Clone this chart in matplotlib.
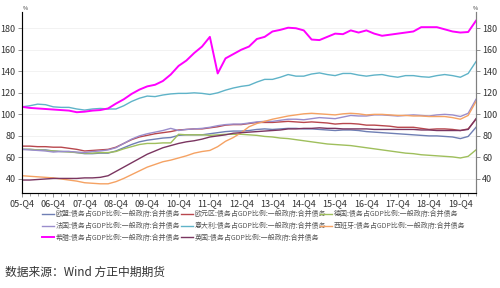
import numpy as np
import matplotlib.pyplot as plt
from matplotlib.ticker import MultipleLocator

plt.rcParams['font.family'] = ['Noto Sans CJK SC', 'DejaVu Sans']
plt.rcParams['axes.unicode_minus'] = False

# ----- Quarters: 05-Q4 ... 20-Q2 ----- #
quarters = []
for yr in range(5, 21):
    for q in range(1, 5):
        if (yr == 5 and q < 4) or (yr == 20 and q > 2):
            continue
        quarters.append("%02d-Q%d" % (yr, q))

# ----- Series (% of GDP) ----- #
eu = [67.5, 67.5, 67, 67, 66, 65.5, 65.5, 64.5, 63.5, 63.5, 64, 64, 66, 69, 72, 74.5, 76,
      77, 78, 78.5, 80.5, 81, 81, 81, 82, 83, 84, 84.5, 84.5, 85, 86, 86.5, 86, 86.5, 87,
      87, 86.5, 86.5, 86, 85.5, 85, 85.5, 85.5, 85, 84, 83.5, 83, 82.5, 82, 81.5, 81, 80.5,
      80, 80, 79.5, 79, 77.5, 79.5, 88]
ea = [70.5, 70.5, 70, 70, 69.5, 69.5, 68.5, 67.5, 66, 66.5, 67, 67.5, 69.5, 73, 76.5, 79,
      80.5, 82, 83, 84, 85.5, 86, 86.5, 86.5, 87.5, 88.5, 90, 90.5, 90.5, 91.5, 92.5, 92.5,
      92.5, 93, 93.5, 93, 92.5, 93, 92.5, 92, 91, 91.5, 91.5, 91, 90, 90, 89.5, 89, 88, 88,
      88, 87, 86, 86.5, 86.5, 86, 85, 86.5, 95.5]
germany = [67.5, 67.5, 67, 66.5, 66, 65.5, 65, 64.5, 64, 64, 64.5, 64.5, 65.5, 68, 70, 72,
           73, 73, 73.5, 73.5, 81.5, 81, 81, 81, 80.5, 81, 81.5, 81.5, 81.5, 81, 80.5, 79.5,
           79, 78, 77.5, 76.5, 75.5, 74.5, 73.5, 72.5, 72, 71.5, 71, 70, 69, 68, 67, 66, 65,
           64, 63.5, 62.5, 62, 61.5, 61, 60.5, 59.5, 61, 67]
france = [67.5, 67, 66.5, 66, 65, 65.5, 65.5, 65, 64.5, 65.5, 66, 67, 69, 73, 77, 80, 82,
          83.5, 85, 87, 85, 86, 86.5, 87, 88, 89.5, 90.5, 91, 91, 92, 93, 93.5, 93.5, 94.5,
          95.5, 95.5, 95, 96, 97, 96.5, 96, 97.5, 99, 98.5, 98.5, 99.5, 99.5, 99, 98.5, 99,
          99.5, 99, 98.5, 99.5, 100, 99.5, 98, 101, 114]
italy = [107, 108, 109.5, 109, 107, 106.5, 106.5, 105, 104, 105, 105.5, 105, 105, 108, 112,
         115, 117, 116.5, 118, 119, 119.5, 119.5, 120, 119.5, 118.5, 120, 122.5, 124.5, 126,
         127, 130, 132.5, 132.5, 134.5, 137, 135.5, 135.5, 137.5, 138.5, 137, 136, 138, 138,
         136.5, 135.5, 136.5, 137, 135.5, 134.5, 136, 136, 135, 134.5, 136, 137, 136, 134.5,
         138, 149]
spain = [43, 42.5, 42, 41.5, 41, 40, 39, 38, 36.5, 36, 35.5, 35.5, 37.5, 40.5, 44, 47.5, 51,
         53.5, 56, 57.5, 59.5, 61.5, 64, 65.5, 66.5, 70, 75, 78.5, 83, 88.5, 91.5, 93.5, 95.5,
         97, 98.5, 99.5, 100.5, 101, 100.5, 100, 99.5, 100.5, 101, 100.5, 99.5, 100, 100,
         99.5, 99, 99, 98.5, 98.5, 98, 98, 98, 97, 95.5, 99, 112]
greece = [107, 106, 105.5, 105, 104.5, 104, 103.5, 102, 102.5, 103.5, 104, 105.5, 110, 114,
          119, 123, 126, 127.5, 131, 137, 145, 150, 157, 163, 172, 138, 152, 156, 160, 163,
          170, 172, 177, 178.5, 180.5, 180, 178, 169.5, 169, 172, 175, 174.5, 178, 176, 178,
          175, 173, 174, 175, 176, 177, 181, 181, 181, 179, 177, 176, 176.5, 187]
uk = [39, 39, 39.5, 40, 40.5, 40.5, 40.5, 40.5, 41, 41, 41.5, 43, 47, 51, 55, 59, 63, 66, 69,
      71, 73, 74.5, 75.5, 77, 79, 80, 81, 82.5, 83, 83.5, 84, 84.5, 85, 85.5, 86.5, 86.5, 87,
      87, 87.5, 87, 87, 86.5, 86.5, 86.5, 86.5, 86, 86, 86, 86, 86, 86, 85.5, 85.5, 85, 85,
      85, 85, 86, 96]

suffix = ":债务占GDP比例:一般政府:合并债务"
names = ["欧盟", "欧元区", "德国", "法国", "意大利", "西班牙", "希腊", "英国"]
series = [eu, ea, germany, france, italy, spain, greece, uk]
colors = ["#6f7fb4", "#b8474d", "#9fbf5c", "#9a8dcc", "#5fb3c8", "#f5a263", "#ff00ff", "#7a3560"]
widths = [1.0, 1.0, 1.0, 1.0, 1.0, 1.0, 1.4, 1.0]

x = np.arange(len(quarters))

# ----- Figure ----- #
fig = plt.figure(figsize=(5, 2.88), dpi=100)
ax = fig.add_axes([0.044, 0.330, 0.908, 0.628])

lines = {}
for name, s, c, w in zip(names, series, colors, widths):
    ln, = ax.plot(x, s, color=c, lw=w, label=name + suffix)
    lines[name] = ln

ax.set_xlim(0, len(quarters) - 1)
ax.set_ylim(27, 195)
ax.set_yticks(np.arange(40, 181, 20))
ax.set_xticks(x[::4])
ax.set_xticklabels(quarters[::4])
ax.xaxis.set_minor_locator(MultipleLocator(1))
ax.grid(axis='y', color='#f0f0f0', lw=0.6)
ax.set_axisbelow(True)

ax.spines['top'].set_visible(False)
for sp in ['left', 'right', 'bottom']:
    ax.spines[sp].set_color('#808080')
    ax.spines[sp].set_linewidth(0.8)
ax.tick_params(axis='both', labelsize=6.5, length=3, width=0.6, pad=1.5,
               colors='#808080', labelcolor='#333333')
ax.tick_params(axis='x', which='minor', length=2, width=0.5, colors='#808080')

ax2 = ax.twinx()
ax2.set_ylim(ax.get_ylim())
ax2.set_yticks(np.arange(40, 181, 20))
ax2.spines['top'].set_visible(False)
ax2.spines['right'].set_color('#808080')
ax2.spines['right'].set_linewidth(0.8)
ax2.tick_params(axis='y', labelsize=6.5, colors='#808080', labelcolor='#333333',
                length=3, width=0.6, pad=1.5)

fig.text(0.046, 0.972, "%", fontsize=4, color='#333333', ha='left', va='center')
fig.text(0.946, 0.972, "%", fontsize=4, color='#333333', ha='left', va='center')

# legend: three fixed-width columns, filled row by row
columns = [["欧盟", "法国", "希腊"], ["欧元区", "意大利", "英国"], ["德国", "西班牙"]]
col_x = [0.084, 0.362, 0.640]
for col, cx in zip(columns, col_x):
    fig.legend([lines[n] for n in col], [n + suffix for n in col],
               loc='upper left', bbox_to_anchor=(cx, 0.270), ncol=1, frameon=False,
               fontsize=5, handlelength=1.7, handletextpad=0.3,
               labelspacing=0.55, labelcolor='#555555', borderaxespad=0, borderpad=0)

fig.text(0.01, 0.055, "数据来源：Wind 方正中期期货", fontsize=8.5, color='#333333',
         ha='left', va='center')

plt.savefig("out.png", dpi=100)
